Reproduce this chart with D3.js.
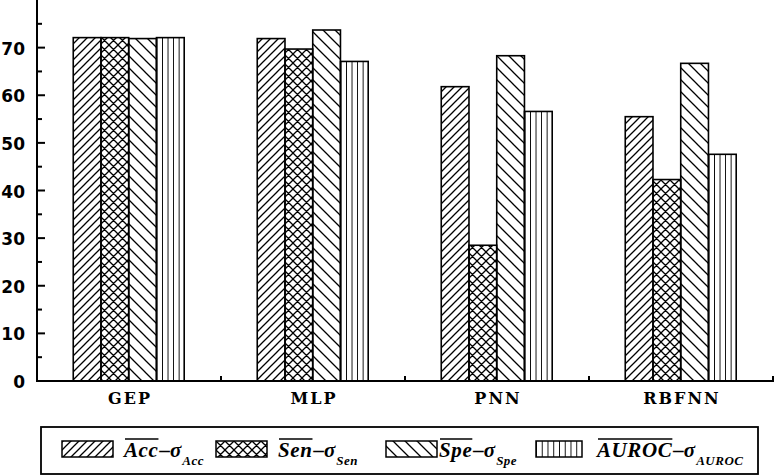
<!DOCTYPE html>
<html><head><meta charset="utf-8">
<script src="https://cdn.jsdelivr.net/npm/d3@7"></script>
<style>body{margin:0;background:#fff}svg{display:block}</style>
</head><body>
<svg id="chart" width="774" height="476"></svg>
<script>
const categories = ["GEP", "MLP", "PNN", "RBFNN"];
const seriesKeys = ["acc", "sen", "spe", "auroc"];
const accValues = [72.1, 71.9, 61.8, 55.5];
const senValues = [72.1, 69.7, 28.5, 42.3];
const speValues = [71.9, 73.7, 68.3, 66.7];
const aurocValues = [72.1, 67.1, 56.6, 47.6];
const yMajorTicks = [0, 10, 20, 30, 40, 50, 60, 70];
const yMinorTicks = [5, 15, 25, 35, 45, 55, 65, 75];
const legendLabels = [
  {main: "Acc", sub: "Acc"},
  {main: "Sen", sub: "Sen"},
  {main: "Spe", sub: "Spe"},
  {main: "AUROC", sub: "AUROC"}
];

(function () {
const seriesValues = [accValues, senValues, speValues, aurocValues];
const svg = d3.select("#chart");
const mLeft = 37, mRight = 773, mTop = 0, mBottom = 381;

const x0 = d3.scaleBand().domain(categories).range([mLeft, mRight]).padding(0);
const bw = x0.bandwidth();
const x1 = d3.scaleBand().domain(seriesKeys).range([bw * 0.197, bw * 0.8]).padding(0);
const y = d3.scaleLinear().domain([0, 80]).range([mBottom, mTop]);

// patterns
const defs = svg.append("defs");
const lw = 1.3;
let p = defs.append("pattern").attr("id", "p-acc").attr("patternUnits", "userSpaceOnUse")
  .attr("width", 8).attr("height", 8);
p.append("path").attr("d", "M-2,2 L2,-2 M0,8 L8,0 M6,10 L10,6").attr("stroke", "#000").attr("stroke-width", lw);
p = defs.append("pattern").attr("id", "p-sen").attr("patternUnits", "userSpaceOnUse")
  .attr("width", 9).attr("height", 9);
p.append("path").attr("d", "M-2,2 L2,-2 M0,9 L9,0 M7,11 L11,7 M-2,7 L2,11 M0,0 L9,9 M7,-2 L11,2")
  .attr("stroke", "#000").attr("stroke-width", lw);
p = defs.append("pattern").attr("id", "p-spe").attr("patternUnits", "userSpaceOnUse")
  .attr("width", 12).attr("height", 12);
p.append("path").attr("d", "M-3,9 L3,15 M0,0 L12,12 M9,-3 L15,3").attr("stroke", "#000").attr("stroke-width", lw);
p = defs.append("pattern").attr("id", "p-auroc").attr("patternUnits", "objectBoundingBox")
  .attr("width", 0.2).attr("height", 1);
p.append("line").attr("x1", 0).attr("x2", 0).attr("y1", 0).attr("y2", 500)
  .attr("stroke", "#000").attr("stroke-width", lw * 1.4);
p = defs.append("pattern").attr("id", "p-auroc-leg").attr("patternUnits", "objectBoundingBox")
  .attr("width", 0.125).attr("height", 1);
p.append("line").attr("x1", 0).attr("x2", 0).attr("y1", 0).attr("y2", 50)
  .attr("stroke", "#000").attr("stroke-width", lw * 1.4);

const fills = {acc: "url(#p-acc)", sen: "url(#p-sen)", spe: "url(#p-spe)", auroc: "url(#p-auroc)"};

// bars
const groups = svg.append("g").selectAll("g").data(categories).join("g")
  .attr("transform", d => `translate(${x0(d)},0)`);
groups.selectAll("rect").data((d, i) => seriesKeys.map((k, j) => ({key: k, value: seriesValues[j][i]})))
  .join("rect")
  .attr("x", d => x1(d.key))
  .attr("y", d => y(d.value))
  .attr("width", x1.bandwidth())
  .attr("height", d => y(0) - y(d.value))
  .attr("fill", d => fills[d.key])
  .attr("stroke", "#000").attr("stroke-width", 1.6);

// y axis
const axis = svg.append("g");
axis.append("line").attr("x1", mLeft).attr("x2", mLeft).attr("y1", mTop).attr("y2", mBottom)
  .attr("stroke", "#000").attr("stroke-width", 2);
axis.selectAll(".maj").data(yMajorTicks).join("line").attr("class", "maj")
  .attr("x1", mLeft).attr("x2", mLeft + 8).attr("y1", d => y(d)).attr("y2", d => y(d))
  .attr("stroke", "#000").attr("stroke-width", 2);
axis.selectAll(".min").data(yMinorTicks).join("line").attr("class", "min")
  .attr("x1", mLeft).attr("x2", mLeft + 5).attr("y1", d => y(d)).attr("y2", d => y(d))
  .attr("stroke", "#000").attr("stroke-width", 2);
axis.selectAll(".yl").data(yMajorTicks).join("text").attr("class", "yl")
  .attr("x", 25).attr("y", d => y(d) + 1).attr("dy", "0.36em")
  .attr("text-anchor", "end")
  .attr("font-family", "DejaVu Sans").attr("font-weight", "bold").attr("font-size", 17)
  .text(d => d);

// x axis
axis.append("line").attr("x1", mLeft - 1).attr("x2", mRight + 1).attr("y1", mBottom).attr("y2", mBottom)
  .attr("stroke", "#000").attr("stroke-width", 2);
axis.selectAll(".xt").data(categories).join("line").attr("class", "xt")
  .attr("x1", d => x0(d) + bw).attr("x2", d => x0(d) + bw)
  .attr("y1", mBottom).attr("y2", mBottom - 5)
  .attr("stroke", "#000").attr("stroke-width", 2);
axis.selectAll(".xl").data(categories).join("text").attr("class", "xl")
  .attr("x", d => x0(d) + bw / 2 + 1).attr("y", 404)
  .attr("text-anchor", "middle")
  .attr("font-family", "DejaVu Serif").attr("font-weight", "bold").attr("font-size", 16)
  .attr("letter-spacing", 2)
  .text(d => d);

// legend
const leg = svg.append("g");
leg.append("rect").attr("x", 41).attr("y", 427).attr("width", 717).attr("height", 47)
  .attr("fill", "none").attr("stroke", "#000").attr("stroke-width", 1.8);
const swatchX = [62, 216, 386, 536];
const textX = [124, 278, 439, 597];
const legFills = ["url(#p-acc)", "url(#p-sen)", "url(#p-spe)", "url(#p-auroc-leg)"];
legendLabels.forEach((lab, i) => {
  leg.append("rect").attr("x", swatchX[i]).attr("y", 441).attr("width", i === 3 ? 46 : 51).attr("height", 16)
    .attr("fill", legFills[i]).attr("stroke", "#000").attr("stroke-width", 1.5);
  const base = 457;
  const t1 = leg.append("text").attr("x", textX[i]).attr("y", base)
    .attr("font-family", "Liberation Serif").attr("font-weight", "bold").attr("font-style", "italic")
    .attr("font-size", 21).attr("letter-spacing", 0.6).text(lab.main);
  const w1 = t1.node().getComputedTextLength();
  leg.append("line").attr("x1", textX[i] + 1).attr("x2", textX[i] + w1).attr("y1", 439).attr("y2", 439)
    .attr("stroke", "#000").attr("stroke-width", 1.6);
  const t2 = leg.append("text").attr("x", textX[i] + w1 + 1).attr("y", base)
    .attr("font-family", "Liberation Serif").attr("font-weight", "bold").attr("font-style", "italic")
    .attr("font-size", 21).text("\u2013\u03C3");
  const w2 = t2.node().getComputedTextLength();
  leg.append("text").attr("x", textX[i] + w1 + w2 + 2).attr("y", base + 8)
    .attr("font-family", "Liberation Serif").attr("font-weight", "bold").attr("font-style", "italic")
    .attr("font-size", 13).attr("letter-spacing", 0.5).text(lab.sub);
});
})();
</script>
</body></html>
